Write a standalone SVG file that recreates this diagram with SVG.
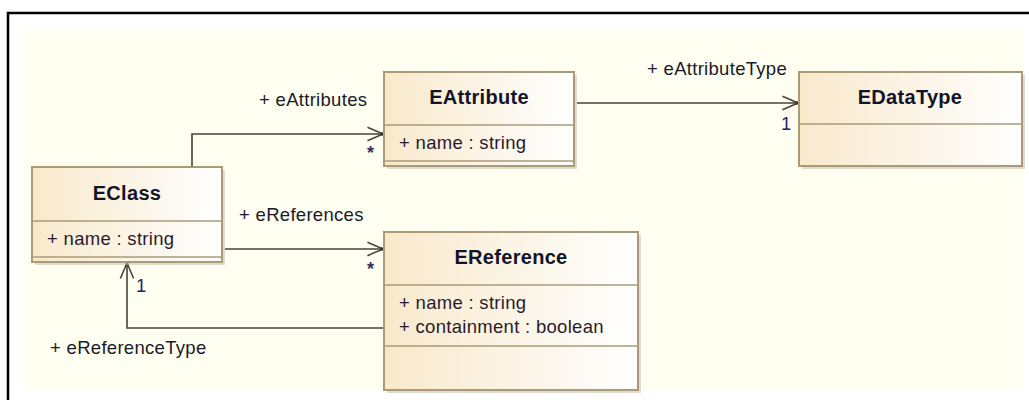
<svg xmlns="http://www.w3.org/2000/svg" width="1029" height="400" viewBox="0 0 1029 400">
<defs>
<linearGradient id="boxfill" x1="0" y1="0" x2="1" y2="0">
<stop offset="0" stop-color="#f8e9cb"/>
<stop offset="1" stop-color="#ffffff"/>
</linearGradient>
<marker id="open" markerUnits="userSpaceOnUse" markerWidth="20" markerHeight="20" viewBox="-16 -8 18 16" refX="0" refY="0" orient="auto">
<path d="M-14,-6 L0,0 L-14,6" fill="none" stroke="#4a4234" stroke-width="1.4"/>
<circle cx="-1" cy="0" r="1.5" fill="#3a3428"/>
</marker>
</defs>
<style>
.frame{fill:none;stroke:#000;stroke-width:2.5}
.bg{fill:#fefff0}
.shadow{fill:#c8c4b4;opacity:0.6}
.box{fill:url(#boxfill);stroke:#aa9a78;stroke-width:2}
.div{stroke:#aa9a78;stroke-width:1.5;fill:none}
.title{font-family:"Liberation Sans",Arial,sans-serif;font-weight:bold;font-size:20px;letter-spacing:0.3px;fill:#141428;text-anchor:middle}
.attr{font-family:"Liberation Sans",Arial,sans-serif;font-size:18.5px;letter-spacing:0.3px;fill:#2a1a2e}
.lbl{font-family:"Liberation Sans",Arial,sans-serif;font-size:18.5px;letter-spacing:0.3px;fill:#1a1a2a}
.mult{font-family:"Liberation Sans",Arial,sans-serif;font-size:18.5px;fill:#2a2060}
.star{font-family:"Liberation Sans",Arial,sans-serif;font-size:18px;font-weight:bold;fill:#3a3060}
.conn{fill:none;stroke:#4a4234;stroke-width:1.6;marker-end:url(#open)}
</style>
<rect class="frame" x="8" y="13" width="1030" height="400"/>
<rect class="bg" x="24" y="29" width="999" height="361"/>

<g id="connectors">
<path class="conn" d="M192,167 V134 H383"/>
<path class="conn" d="M225,249 H383"/>
<path class="conn" d="M384,328 H127 V263"/>
<path class="conn" d="M577,103 H798"/>
<text class="lbl" x="259" y="106">+ eAttributes</text>
<text class="star" x="367" y="159">*</text>
<text class="lbl" x="239" y="221">+ eReferences</text>
<text class="star" x="367" y="275">*</text>
<text class="lbl" x="50" y="354">+ eReferenceType</text>
<text class="mult" x="136" y="292">1</text>
<text class="lbl" x="647" y="75">+ eAttributeType</text>
<text class="mult" x="781" y="130">1</text>
</g>

<g id="EClass">
<rect class="shadow" x="35" y="170" width="190" height="95"/>
<rect class="box" x="32" y="167" width="190" height="95"/>
<line class="div" x1="32" y1="221" x2="222" y2="221"/>
<line class="div" x1="32" y1="257" x2="222" y2="257"/>
<text class="title" x="127" y="200">EClass</text>
<text class="attr" x="47" y="245">+ name : string</text>
</g>

<g id="EAttribute">
<rect class="shadow" x="387" y="75" width="190" height="94"/>
<rect class="box" x="384" y="72" width="190" height="94"/>
<line class="div" x1="384" y1="125" x2="574" y2="125"/>
<line class="div" x1="384" y1="161" x2="574" y2="161"/>
<text class="title" x="479" y="104">EAttribute</text>
<text class="attr" x="399" y="149">+ name : string</text>
</g>

<g id="EReference">
<rect class="shadow" x="387" y="235" width="254" height="158"/>
<rect class="box" x="384" y="232" width="254" height="158"/>
<line class="div" x1="384" y1="285" x2="638" y2="285"/>
<line class="div" x1="384" y1="346" x2="638" y2="346"/>
<text class="title" x="511" y="264">EReference</text>
<text class="attr" x="399" y="309">+ name : string</text>
<text class="attr" x="399" y="333">+ containment : boolean</text>
</g>

<g id="EDataType">
<rect class="shadow" x="802" y="75" width="223" height="94"/>
<rect class="box" x="799" y="72" width="223" height="94"/>
<line class="div" x1="799" y1="124" x2="1022" y2="124"/>
<text class="title" x="910" y="104">EDataType</text>
</g>
</svg>
